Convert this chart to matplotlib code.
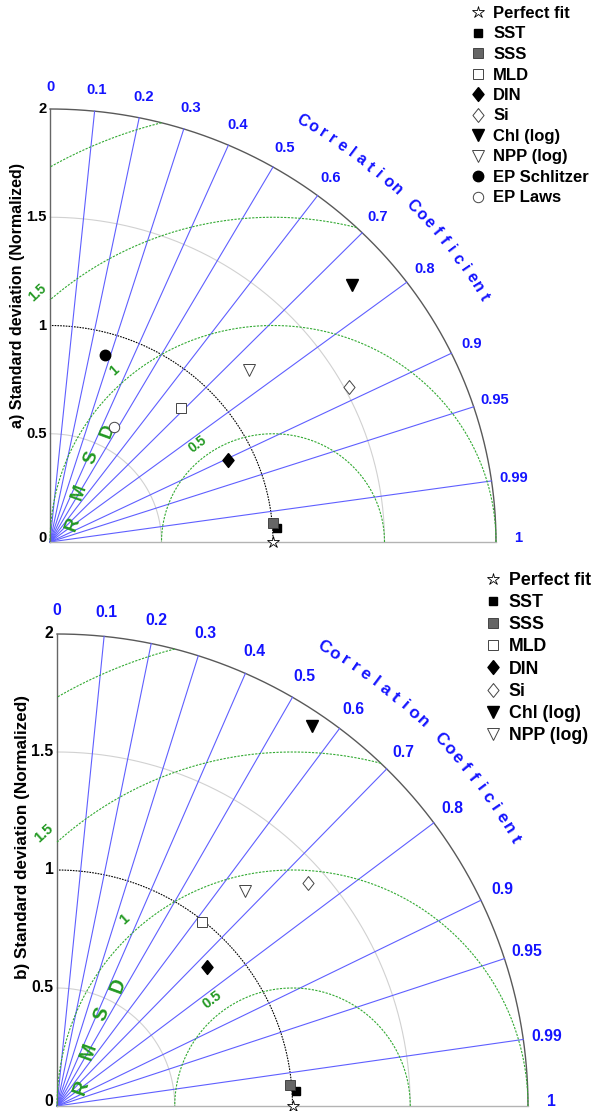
import matplotlib.pyplot as plt
import numpy as np
from matplotlib.lines import Line2D

plt.rcParams['font.family'] = ['Liberation Sans', 'DejaVu Sans']
plt.rcParams['font.weight'] = 'bold'

# normalized standard deviation and correlation of each field
labels_a = ["SST", "SSS", "MLD", "DIN", "Si", "Chl (log)", "NPP (log)", "EP Schlitzer", "EP Laws"]
std_a = [1.02, 1.004, 0.854, 0.886, 1.519, 1.80, 1.196, 0.90, 0.603]
corr_a = [0.998, 0.996, 0.687, 0.903, 0.882, 0.752, 0.747, 0.275, 0.476]

labels_b = ["SST", "SSS", "MLD", "DIN", "Si", "Chl (log)", "NPP (log)"]
std_b = [1.017, 0.994, 0.993, 0.868, 1.425, 1.94, 1.212]
corr_b = [0.998, 0.996, 0.619, 0.734, 0.748, 0.558, 0.660]

corr_ticks = [0, 0.1, 0.2, 0.3, 0.4, 0.5, 0.6, 0.7, 0.8, 0.9, 0.95, 0.99, 1]
corr_tick_labels = ["0", "0.1", "0.2", "0.3", "0.4", "0.5", "0.6", "0.7", "0.8", "0.9", "0.95", "0.99", "1"]
std_ticks = [0, 0.5, 1, 1.5, 2]
std_tick_labels = ["0", "0.5", "1", "1.5", "2"]
rmsd_levels = [0.5, 1, 1.5, 2]
rmsd_labels = ["0.5", "1", "1.5"]

diamond = [(0, 1), (0.8, 0), (0, -1), (-0.8, 0), (0, 1)]
styles = {
    "Perfect fit": dict(marker='*', mfc='white', mec='k', ms=9, mew=0.6),
    "SST": dict(marker='s', mfc='k', mec='k', ms=6),
    "SSS": dict(marker='s', mfc='#666666', mec='#333333', ms=6.5, mew=0.6),
    "MLD": dict(marker='s', mfc='white', mec='#444444', ms=6.5, mew=0.7),
    "DIN": dict(marker=diamond, mfc='k', mec='k', ms=10),
    "Si": dict(marker=diamond, mfc='white', mec='#444444', ms=10, mew=0.7),
    "Chl (log)": dict(marker='v', mfc='k', mec='k', ms=9),
    "NPP (log)": dict(marker='v', mfc='white', mec='#444444', ms=9, mew=0.7),
    "EP Schlitzer": dict(marker='o', mfc='k', mec='k', ms=7.5),
    "EP Laws": dict(marker='o', mfc='white', mec='#444444', ms=7.5, mew=0.7),
}

blue = '#1414ff'
green = '#229922'


def taylor(ax, labels, stds, corrs, tag, fs):
    ax.set_xlim(0, 2)
    ax.set_ylim(0, 2)
    ax.axis('off')
    t = np.linspace(0, np.pi / 2, 300)

    # standard deviation arcs
    for s in std_ticks[1:]:
        if s == 2:
            ax.plot(s * np.cos(t), s * np.sin(t), color='0.35', lw=1.0, clip_on=False)
        elif s == 1:
            ax.plot(s * np.cos(t), s * np.sin(t), color='k', lw=0.8, ls=(0, (1.5, 1)), clip_on=False)
        else:
            ax.plot(s * np.cos(t), s * np.sin(t), color='0.82', lw=0.8, clip_on=False)

    # correlation rays
    for c in corr_ticks[1:-1]:
        th = np.arccos(c)
        ax.plot([0, 2 * np.cos(th)], [0, 2 * np.sin(th)], color='#5f5fff', lw=0.8, clip_on=False)
    for c, lab in zip(corr_ticks, corr_tick_labels):
        th = np.arccos(c)
        y = 2.1 * np.sin(th) if c < 1 else 0.02
        ax.text(2.1 * np.cos(th), y, lab, color=blue, ha='center', va='center',
                fontsize=fs * 0.92)

    # axes
    ax.plot([0, 0], [0, 2], color='0.4', lw=1.0, clip_on=False)
    ax.plot([0, 2], [0, 0], color='0.7', lw=1.0, clip_on=False)
    for s, lab in zip(std_ticks, std_tick_labels):
        y = s if s > 0 else 0.02
        ax.text(-0.015, y, lab, ha='right', va='center', fontsize=fs * 0.92, color='k')
    ax.text(-0.145, 1.14, tag + ") Standard deviation (Normalized)", rotation=90,
            ha='center', va='center', fontsize=fs * 1.0)

    # RMSD circles about the reference point
    for r in rmsd_levels:
        p0 = np.arccos(min(1.0, (3 - r ** 2) / (2 * r)))
        p1 = np.arccos(max(-1.0, -1.0 / r))
        p = np.linspace(p0, p1, 300)
        ax.plot(1 + r * np.cos(p), r * np.sin(p), color='#33aa33', lw=0.8, ls=(0, (2, 1.2)),
                clip_on=False)
    for r, lab, ang in zip(rmsd_levels, rmsd_labels, [127, 132, 132.5]):
        a = np.deg2rad(ang)
        ax.text(1 + (r + 0.065) * np.cos(a), (r + 0.065) * np.sin(a), lab, color=green,
                rotation=ang - 90, ha='center', va='center', fontsize=fs * 0.85)
    for ch, (x, y) in zip("RMSD", [(0.1, 0.08), (0.132, 0.23), (0.187, 0.39), (0.257, 0.512)]):
        ax.text(x, y, ch, color=green, rotation=70, ha='center', va='center', fontsize=fs * 1.15)

    # curved axis title
    title = "Correlation Coefficient"
    angs = np.linspace(59.8, 30.2, len(title))
    for ch, a in zip(title, angs):
        if ch == ' ':
            continue
        ar = np.deg2rad(a)
        ax.text(2.25 * np.cos(ar), 2.25 * np.sin(ar), ch, color=blue, rotation=a - 90,
                ha='center', va='center', fontsize=fs * 1.0)

    # points
    ax.plot(1, 0, ls='none', clip_on=False, zorder=5, **styles["Perfect fit"])
    for lab, s, c in zip(labels, stds, corrs):
        th = np.arccos(c)
        ax.plot(s * np.cos(th), s * np.sin(th), ls='none', clip_on=False, zorder=5, **styles[lab])


fig = plt.figure(figsize=(5.95, 11.11), dpi=100)
ax_a = fig.add_axes([50 / 595, 569 / 1111, 446 / 595, 433 / 1111])
ax_b = fig.add_axes([57 / 595, 5 / 1111, 471 / 595, 472 / 1111])

taylor(ax_a, labels_a, std_a, corr_a, "a", 11.5)
taylor(ax_b, labels_b, std_b, corr_b, "b", 12.3)

for labels, anchor, fs, lsp in [(labels_a, (470 / 595, 1 - 6 / 1111), 12, 0.33),
                                (labels_b, (484 / 595, 1 - 572 / 1111), 12.8, 0.29)]:
    handles = [Line2D([], [], ls='none', **styles[k]) for k in ["Perfect fit"] + labels]
    fig.legend(handles, ["Perfect fit"] + labels, loc='upper left', bbox_to_anchor=anchor,
               frameon=False, borderpad=0, borderaxespad=0, handlelength=1.0,
               handletextpad=0.4, labelspacing=lsp, fontsize=fs)

fig.savefig("out.png", dpi=100)
